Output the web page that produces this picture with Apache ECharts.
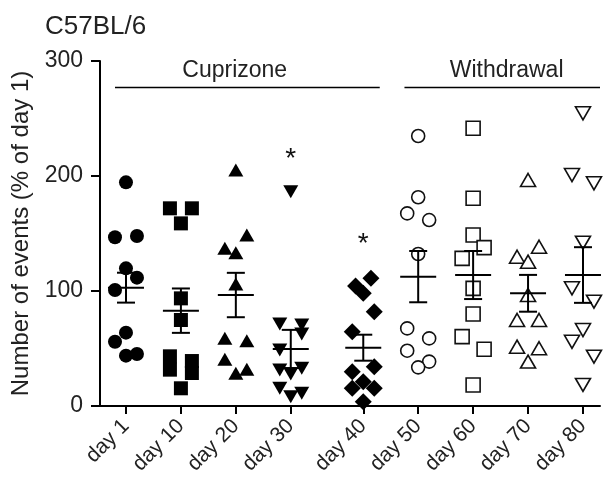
<!DOCTYPE html>
<html><head><meta charset="utf-8">
<script src="https://cdn.jsdelivr.net/npm/echarts@6/dist/echarts.min.js"></script>
<style>html,body{margin:0;padding:0;background:#fff}#c{width:606px;height:492px}</style>
</head><body><div id="c"></div>
<script>
// ---- data ----
const categories = ['day 1','day 10','day 20','day 30','day 40','day 50','day 60','day 70','day 80'];
const catPos = [0, 1, 2, 3, 4.32, 5.32, 6.32, 7.32, 8.32];
const yTicks = [0, 100, 200, 300];

const day1  = [194.5, 146.7, 147.8, 119.7, 111.6, 100.9, 63.8, 55.9, 43.8, 45.2];
const day1Col  = [0, -1, 1, 0, 1, -1, 0, -1, 0, 1];
const day10 = [171.9, 171.9, 158.8, 93.6, 74.8, 43.2, 31.6, 39.1, 28.7, 15.4];
const day10Col = [-1, 1, 0, 0, 0, -1, -1, 1, 1, 0];
const day20 = [205.2, 148.7, 137.1, 133.3, 106.1, 58.9, 56.8, 40.6, 28.4, 31.9];
const day20Col = [0, 1, -1, 0, 0, -1, 1, -1, 0, 1];
const day30 = [186.3, 71.3, 70.4, 62.6, 48.7, 31.3, 27.8, 32.8, 15.4, 8.1, 11.0];
const day30Col = [0, -1, 1, 1, -1, -1, 0, 1, -1, 0, 1];
const day40 = [111.0, 104.3, 98.0, 82.0, 64.6, 34.2, 29.8, 21.1, 15.4, 15.4, 3.7];
const day40Col = [0.7, -0.7, 0, 1, -1, 1, -1, 0, -1, 1, 0];
const day50 = [234.8, 181.5, 167.5, 161.7, 132.2, 67.5, 58.8, 48.1, 38.6, 33.6];
const day50Col = [0, 0, -1, 1, 0, -1, 1, -1, 1, 0];
const day60 = [241.5, 180.6, 148.7, 137.7, 128.4, 102.3, 80.0, 60.3, 49.3, 18.3];
const day60Col = [0, 0, 0, 1, -1, 0, 0, -1, 1, 0];
const day70 = [196.5, 138.5, 129.8, 125.5, 96.5, 74.8, 74.8, 51.6, 50.2, 38.6];
const day70Col = [0, 1, -1, 0, 0, -1, 1, -1, 1, 0];
const day80 = [254.5, 200.9, 193.6, 142.0, 102.3, 90.7, 66.1, 55.9, 42.9, 18.3];
const day80Col = [0, -1, 1, 0, -1, 1, 0, -1, 1, 0];

const means = [102.9, 82.9, 96.5, 49.6, 50.7, 112.5, 113.9, 98.0, 113.9];
const sems  = [13.0, 19.3, 19.3, 16.6, 11.3, 22.3, 20.9, 16.0, 24.2];

const starLevel = [null, null, null, 218, 144, null, null, null, null];

const phaseNames = ['Cuprizone', 'Withdrawal'];
const phaseStart = [-0.2, 5.07];
const phaseEnd   = [4.62, 8.63];
const phaseLevel = [277, 277];
const phaseLabelPos = [1.98, 6.93];

// ---- build ----
const groups = [day1, day10, day20, day30, day40, day50, day60, day70, day80];
const groupCols = [day1Col, day10Col, day20Col, day30Col, day40Col, day50Col, day60Col, day70Col, day80Col];
const SPREAD = 0.2;
const invTri = 'path://M0,0L20,0L10,18Z';
const symbols = ['circle', 'rect', 'triangle', invTri, 'diamond', 'circle', 'rect', 'triangle', invTri];
const sizes = [14, 14, [15, 13], [15, 13], 17, 13, 14, [15, 13], [15, 13]];
const FONT = 'Liberation Sans';

const series = [];
groups.forEach((vals, k) => {
  const open = k >= 5;
  series.push({
    type: 'scatter',
    data: vals.map((v, i) => [catPos[k] + groupCols[k][i] * SPREAD, v]),
    symbol: symbols[k],
    symbolSize: sizes[k],
    itemStyle: open ? {color: '#fff', borderColor: '#111', borderWidth: 1.6, opacity: 1}
                    : {color: '#000', opacity: 1},
    z: 2,
    silent: true
  });
});

series.push({
  type: 'custom',
  z: 5,
  silent: true,
  data: catPos.map((x, k) => [x, means[k], sems[k]]),
  renderItem: (params, api) => {
    const x = api.value(0), m = api.value(1), s = api.value(2);
    const c = api.coord([x, m]);
    const t = api.coord([x, m + s]);
    const b = api.coord([x, m - s]);
    const st = {stroke: '#000', lineWidth: 2};
    return {type: 'group', children: [
      {type: 'line', shape: {x1: c[0] - 18, y1: c[1], x2: c[0] + 18, y2: c[1]}, style: st},
      {type: 'line', shape: {x1: c[0], y1: t[1], x2: c[0], y2: b[1]}, style: st},
      {type: 'line', shape: {x1: c[0] - 9, y1: t[1], x2: c[0] + 9, y2: t[1]}, style: st},
      {type: 'line', shape: {x1: c[0] - 9, y1: b[1], x2: c[0] + 9, y2: b[1]}, style: st}
    ]};
  }
});

series.push({
  type: 'custom',
  z: 5,
  silent: true,
  data: catPos.map((x, k) => [x, starLevel[k]]).filter(d => d[1] !== null),
  renderItem: (params, api) => {
    const c = api.coord([api.value(0), api.value(1)]);
    return {type: 'text', x: c[0], y: c[1] + 4,
      style: {text: '*', fontSize: 28, fontFamily: FONT, fill: '#111', align: 'center', verticalAlign: 'middle'}};
  }
});

series.push({
  type: 'custom',
  z: 5,
  silent: true,
  clip: false,
  data: phaseNames.map((n, i) => [phaseStart[i], phaseEnd[i], phaseLevel[i], phaseLabelPos[i], n]),
  renderItem: (params, api) => {
    const a = api.coord([api.value(0), api.value(2)]);
    const b = api.coord([api.value(1), api.value(2)]);
    const l = api.coord([api.value(3), api.value(2)]);
    return {type: 'group', children: [
      {type: 'line', shape: {x1: a[0], y1: a[1], x2: b[0], y2: b[1]}, style: {stroke: '#000', lineWidth: 1.5}},
      {type: 'text', x: l[0], y: l[1] - 5,
        style: {text: phaseNames[params.dataIndex], fontSize: 23, fontFamily: FONT, fill: '#222', align: 'center', verticalAlign: 'bottom'}}
    ]};
  }
});

const chart = echarts.init(document.getElementById('c'), null, {renderer: 'canvas'});
chart.setOption({
  animation: false,
  backgroundColor: '#fff',
  title: {text: 'C57BL/6', left: 40, top: 9,
    textStyle: {fontSize: 26, fontWeight: 'normal', color: '#222', fontFamily: FONT}},
  grid: {left: 100, right: 6, top: 61, bottom: 86},
  xAxis: {
    type: 'value', min: -0.473, max: 8.63,
    splitLine: {show: false},
    axisLine: {show: true, onZero: false, lineStyle: {color: '#000', width: 2}},
    axisTick: {show: true, customValues: catPos, length: 8, lineStyle: {color: '#000', width: 2}},
    axisLabel: {customValues: catPos, rotate: 45, margin: 17, fontSize: 21, color: '#222', fontFamily: FONT,
      formatter: v => {
        let best = 0;
        catPos.forEach((p, i) => { if (Math.abs(p - v) < Math.abs(catPos[best] - v)) best = i; });
        return categories[best];
      }}
  },
  yAxis: {
    type: 'value', min: yTicks[0], max: yTicks[yTicks.length - 1], interval: 100,
    splitLine: {show: false},
    axisLine: {show: true, onZero: false, lineStyle: {color: '#000', width: 2}},
    axisTick: {show: true, length: 9, lineStyle: {color: '#000', width: 2}},
    axisLabel: {fontSize: 23, margin: 17, color: '#222', fontFamily: FONT},
    name: 'Number of events (% of day 1)',
    nameLocation: 'middle', nameGap: 66,
    nameTextStyle: {fontSize: 24, color: '#222', fontFamily: FONT}
  },
  series: series
});
</script>
</body></html>
